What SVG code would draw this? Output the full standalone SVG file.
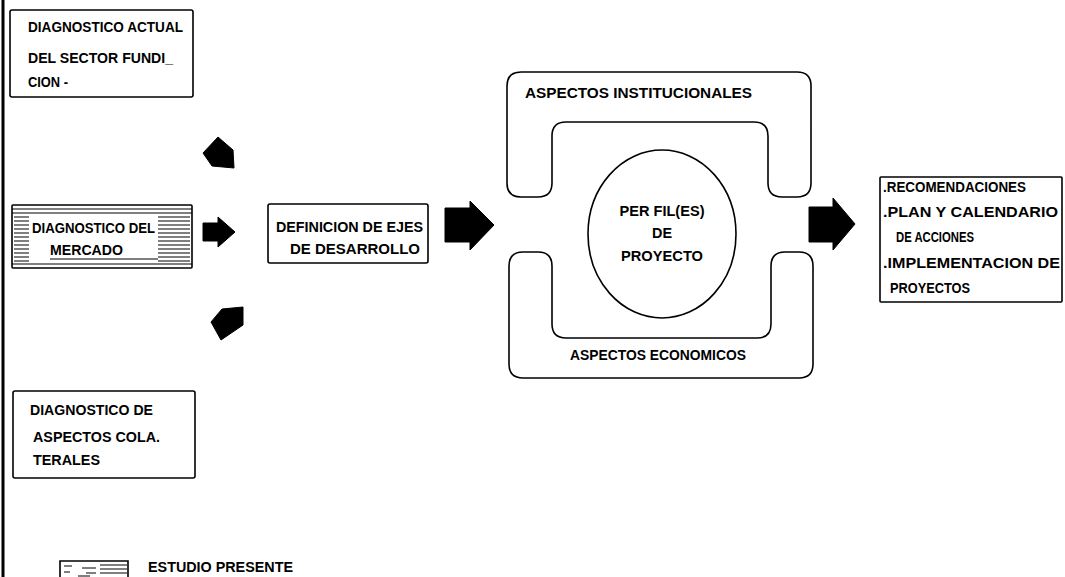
<svg xmlns="http://www.w3.org/2000/svg" width="1065" height="577" viewBox="0 0 1065 577">
<defs>
<style>
.box{fill:none;stroke:#000;stroke-width:1.6}
.frame{fill:none;stroke:#000;stroke-width:1.6;stroke-linejoin:round}
.t{font-family:"Liberation Sans",Arial,sans-serif;font-weight:bold;font-size:14px;fill:#000}
.arrow{fill:#000;stroke:#000;stroke-width:1}
.hatch{stroke:#000;stroke-width:1}
</style>
</defs>
<rect width="1065" height="577" fill="#fff"/>
<line x1="3" y1="0" x2="3" y2="577" stroke="#000" stroke-width="3"/>

<g id="node-diag-actual">
<rect class="box" x="10" y="10" width="183" height="87" rx="2"/>
<text class="t" x="28" y="32" textLength="155" lengthAdjust="spacingAndGlyphs">DIAGNOSTICO ACTUAL</text>
<text class="t" x="28" y="63" textLength="145" lengthAdjust="spacingAndGlyphs">DEL SECTOR FUNDI_</text>
<text class="t" x="28" y="87" textLength="40" lengthAdjust="spacingAndGlyphs">CION -</text>
</g>

<g id="node-diag-mercado">
<rect class="box" x="12" y="205" width="180" height="63" rx="1"/>
<g class="hatch">
<line x1="12" y1="209" x2="192" y2="209"/>
<line x1="12" y1="213" x2="192" y2="213"/>
<line x1="12" y1="264" x2="192" y2="264"/>
<path d="M14 217H29M14 221H29M14 225H29M14 229H29M14 233H29M14 237H29M14 241H29M14 245H29M14 249H29M14 253H29M14 257H29M14 261H29"/>
<path d="M158 217H190M158 221H190M158 225H190M158 229H190M158 233H190M158 237H190M158 241H190M158 245H190M158 249H190M158 253H190M158 257H190M158 261H190"/>
<line x1="50" y1="259" x2="158" y2="259"/>
</g>
<text class="t" x="32" y="233" textLength="123" lengthAdjust="spacingAndGlyphs">DIAGNOSTICO DEL</text>
<text class="t" x="50" y="255" textLength="73" lengthAdjust="spacingAndGlyphs">MERCADO</text>
</g>

<g id="node-diag-colaterales">
<rect class="box" x="13" y="391" width="182" height="87" rx="2"/>
<text class="t" x="30" y="415" textLength="123" lengthAdjust="spacingAndGlyphs">DIAGNOSTICO DE</text>
<text class="t" x="33" y="442" textLength="127" lengthAdjust="spacingAndGlyphs">ASPECTOS COLA.</text>
<text class="t" x="33" y="465" textLength="67" lengthAdjust="spacingAndGlyphs">TERALES</text>
</g>

<g id="node-definicion">
<rect class="box" x="268" y="204" width="160" height="59" rx="2"/>
<text class="t" x="276" y="232" textLength="147" lengthAdjust="spacingAndGlyphs">DEFINICION DE EJES</text>
<text class="t" x="290" y="254" textLength="130" lengthAdjust="spacingAndGlyphs">DE DESARROLLO</text>
</g>

<g id="node-aspectos-institucionales">
<path class="frame" d="M507,86 Q507,72 521,72 L797,72 Q811,72 811,86 L811,183 Q811,197 797,197 L782,197 Q768,197 768,183 L768,136 Q768,122 754,122 L566,122 Q552,122 552,136 L552,183 Q552,197 538,197 L521,197 Q507,197 507,183 Z"/>
<text class="t" x="525" y="98" textLength="227" lengthAdjust="spacingAndGlyphs">ASPECTOS INSTITUCIONALES</text>
</g>

<g id="node-aspectos-economicos">
<path class="frame" d="M509,266 Q509,252 523,252 L538,252 Q552,252 552,266 L552,324 Q552,338 566,338 L757,338 Q771,338 771,324 L771,266 Q771,252 785,252 L799,252 Q813,252 813,266 L813,364 Q813,378 799,378 L523,378 Q509,378 509,364 Z"/>
<text class="t" x="570" y="360" textLength="176" lengthAdjust="spacingAndGlyphs">ASPECTOS ECONOMICOS</text>
</g>

<g id="node-perfiles">
<ellipse cx="662" cy="234" rx="74" ry="84" fill="none" stroke="#000" stroke-width="1.6"/>
<text class="t" x="662" y="216" text-anchor="middle" textLength="85" lengthAdjust="spacingAndGlyphs">PER FIL(ES)</text>
<text class="t" x="662" y="238" text-anchor="middle" textLength="20" lengthAdjust="spacingAndGlyphs">DE</text>
<text class="t" x="662" y="261" text-anchor="middle" textLength="82" lengthAdjust="spacingAndGlyphs">PROYECTO</text>
</g>

<g id="node-resultados">
<rect class="box" x="880" y="177" width="182" height="125" rx="1"/>
<text class="t" x="883" y="192" textLength="143" lengthAdjust="spacingAndGlyphs">.RECOMENDACIONES</text>
<text class="t" x="883" y="217" textLength="175" lengthAdjust="spacingAndGlyphs">.PLAN Y CALENDARIO</text>
<text class="t" x="896" y="242" textLength="78" lengthAdjust="spacingAndGlyphs">DE ACCIONES</text>
<text class="t" x="883" y="268" textLength="177" lengthAdjust="spacingAndGlyphs">.IMPLEMENTACION DE</text>
<text class="t" x="890" y="293" textLength="80" lengthAdjust="spacingAndGlyphs">PROYECTOS</text>
</g>

<g id="legend">
<path d="M60,577 V561 H128 V577" fill="none" stroke="#000" stroke-width="1.6"/>
<g class="hatch">
<path d="M100 565H127M100 569H127M100 573H127"/>
<path d="M64 566H72M82 568H96M64 572H70M86 573H96M78 576H90"/>
</g>
<text class="t" x="148" y="572" textLength="145" lengthAdjust="spacingAndGlyphs">ESTUDIO PRESENTE</text>
</g>

<g id="connectors">
<polygon class="arrow" points="218,137 203,153 212,166 234,168 233,150"/>
<polygon class="arrow" points="203,223 218,223 218,217 235,232 218,247 218,241 203,241"/>
<polygon class="arrow" points="222,309 243,307 243,325 221,340 211,322"/>
<polygon class="arrow" points="445,208 470,208 470,201 494,225 470,250 470,242 445,242"/>
<polygon class="arrow" points="809,207 833,207 833,198 855,224 833,250 833,242 809,242"/>
</g>
</svg>
